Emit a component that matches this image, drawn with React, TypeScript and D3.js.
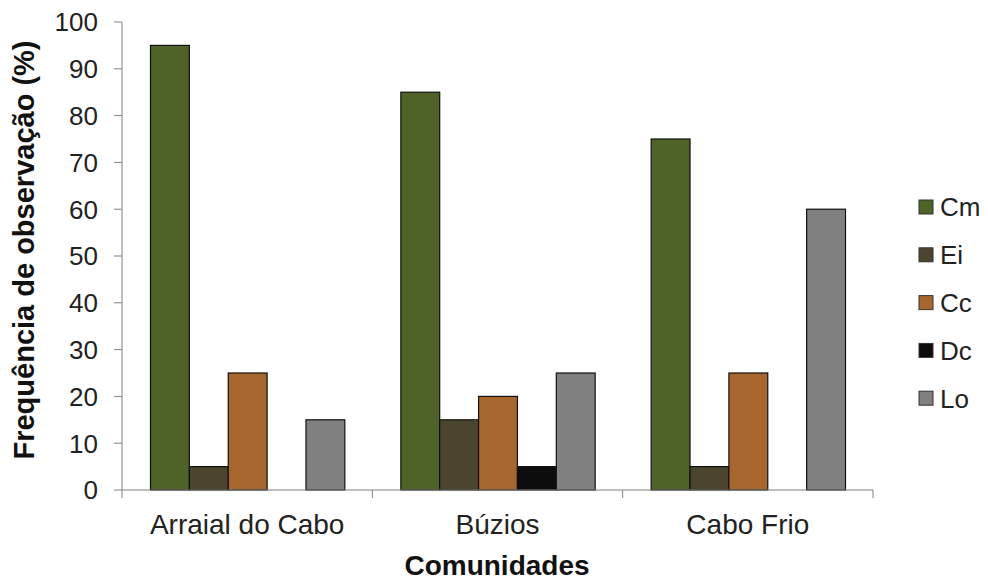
import React from "react";
import * as d3 from "d3";

const communities = ["Arraial do Cabo", "Búzios", "Cabo Frio"];
const species = ["Cm", "Ei", "Cc", "Dc", "Lo"];
const colors = ["#4f6228", "#4c452e", "#a6662e", "#0d0d0d", "#808080"];
const cm = [95, 85, 75];
const ei = [5, 15, 5];
const cc = [25, 20, 25];
const dc = [0, 5, 0];
const lo = [15, 25, 60];
const yTicks = [0, 10, 20, 30, 40, 50, 60, 70, 80, 90, 100];

const seriesValues = [cm, ei, cc, dc, lo];

const W = 988;
const H = 581;
const left = 122;
const right = 873;
const top = 22;
const bottom = 490;

export default function App() {
  const x = d3.scaleBand<string>().domain(communities).range([left, right]).paddingInner(0).paddingOuter(0);
  const inner = d3
    .scaleBand<string>()
    .domain(species)
    .range([28, x.bandwidth() - 28])
    .padding(0);
  const y = d3.scaleLinear().domain([0, 100]).range([bottom, top]);
  const font = "Arial, 'Liberation Sans', sans-serif";

  return (
    <svg width={W} height={H} style={{ position: "absolute", left: 0, top: 0, background: "#fff" }}>
      {/* bars */}
      {communities.map((c, ci) => (
        <g key={c} transform={`translate(${x(c)},0)`}>
          {species.map((s, si) => {
            const v = seriesValues[si][ci];
            if (v <= 0) return null;
            return (
              <rect
                key={s}
                x={inner(s)! + 0.5}
                y={y(v)}
                width={inner.bandwidth()}
                height={y(0) - y(v)}
                fill={colors[si]}
                stroke="#111"
                strokeWidth={1.2}
              />
            );
          })}
        </g>
      ))}

      {/* y axis */}
      <line x1={left} x2={left} y1={top} y2={bottom} stroke="#808080" strokeWidth={1} />
      {yTicks.map((t) => (
        <g key={t}>
          <line x1={left - 8} x2={left} y1={y(t)} y2={y(t)} stroke="#808080" strokeWidth={1} />
          <text
            x={98}
            y={y(t)}
            dy="0.36em"
            textAnchor="end"
            fontFamily={font}
            fontSize={26}
            fill="#222"
          >
            {t}
          </text>
        </g>
      ))}

      {/* x axis */}
      <line x1={left} x2={right} y1={bottom} y2={bottom} stroke="#808080" strokeWidth={1} />
      {[left, ...communities.map((c) => x(c)! + x.bandwidth())].map((px, i) => (
        <line key={i} x1={px} x2={px} y1={bottom} y2={bottom + 8} stroke="#808080" strokeWidth={1} />
      ))}
      {communities.map((c) => (
        <text
          key={c}
          x={x(c)! + x.bandwidth() / 2}
          y={534}
          textAnchor="middle"
          fontFamily={font}
          fontSize={28}
          fill="#222"
        >
          {c}
        </text>
      ))}

      {/* axis titles */}
      <text
        x={497}
        y={575}
        textAnchor="middle"
        fontFamily={font}
        fontSize={28}
        fontWeight="bold"
        fill="#111"
      >
        Comunidades
      </text>
      <text
        transform={`translate(34,${250}) rotate(-90)`}
        textAnchor="middle"
        fontFamily={font}
        fontSize={29}
        fontWeight="bold"
        fill="#111"
      >
        Frequência de observação (%)
      </text>

      {/* legend */}
      {species.map((s, i) => {
        const cy = 207 + i * 47.8;
        return (
          <g key={s}>
            <rect x={919} y={cy - 7} width={14} height={14} fill={colors[i]} stroke="#333" strokeWidth={1} />
            <text x={940} y={cy} dy="0.36em" fontFamily={font} fontSize={26} fill="#222">
              {s}
            </text>
          </g>
        );
      })}
    </svg>
  );
}
